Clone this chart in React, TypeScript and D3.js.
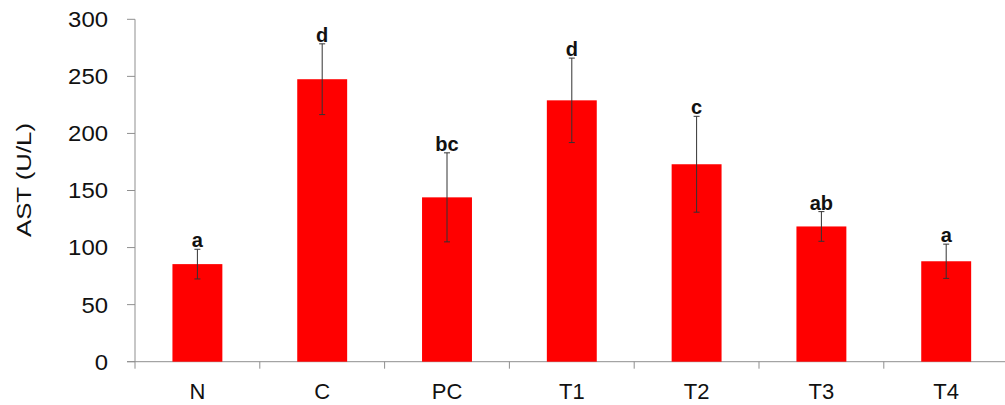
import React from "react";
import * as d3 from "d3";

const categories = ["N", "C", "PC", "T1", "T2", "T3", "T4"];
const means = [85.5, 247.5, 144, 229, 173, 118.5, 88];
const errors = [13, 31, 39, 37, 42, 13, 15];
const letters = ["a", "d", "bc", "d", "c", "ab", "a"];
const yTicks = [0, 50, 100, 150, 200, 250, 300];

const W = 1005;
const H = 405;
const axisX = 135;
const step = 124.8;

export default function App() {
  const x = d3
    .scaleBand<string>()
    .domain(categories)
    .range([axisX, axisX + step * categories.length])
    .paddingInner(0.6)
    .paddingOuter(0.3);
  const y = d3.scaleLinear().domain([0, 300]).range([361.7, 19.3]);
  const font = "Arial, 'Liberation Sans', sans-serif";
  const axisColor = "#8f8f8f";
  const boundaries = d3.range(categories.length + 1).map((i) => axisX + i * x.step());

  return (
    <svg
      width={W}
      height={H}
      style={{ position: "absolute", left: 0, top: 0, background: "#fff" }}
      fontFamily={font}
    >
      <rect x={0} y={0} width={W} height={H} fill="#fff" />
      {/* y axis */}
      <line x1={axisX} x2={axisX} y1={y(300)} y2={y(0)} stroke={axisColor} strokeWidth={1} />
      {yTicks.map((t) => {
        const label = String(t);
        return (
          <g key={t}>
            <line x1={axisX - 8} x2={axisX} y1={y(t)} y2={y(t)} stroke={axisColor} strokeWidth={1} />
            <text
              x={108}
              y={y(t)}
              dy="0.36em"
              textAnchor="end"
              fontSize={22}
              fill="#111"
              textLength={13.3 * label.length}
              lengthAdjust="spacingAndGlyphs"
            >
              {label}
            </text>
          </g>
        );
      })}
      {/* x axis */}
      <line x1={axisX - 8} x2={W} y1={y(0)} y2={y(0)} stroke={axisColor} strokeWidth={1} />
      {boundaries.map((b, i) => (
        <line key={i} x1={b} x2={b} y1={y(0)} y2={y(0) + 7} stroke={axisColor} strokeWidth={1} />
      ))}
      {categories.map((c) => (
        <text
          key={c}
          x={(x(c) as number) + x.bandwidth() / 2}
          y={399}
          textAnchor="middle"
          fontSize={22}
          fill="#111"
        >
          {c}
        </text>
      ))}
      {/* bars */}
      {categories.map((c, i) => (
        <rect
          key={c}
          x={x(c) as number}
          y={y(means[i])}
          width={x.bandwidth()}
          height={y(0) - y(means[i])}
          fill="#ff0000"
        />
      ))}
      {/* error bars */}
      {categories.map((c, i) => {
        const cx = (x(c) as number) + x.bandwidth() / 2;
        const top = y(means[i] + errors[i]);
        const bot = y(means[i] - errors[i]);
        return (
          <g key={c} stroke="#333" strokeWidth={1}>
            <line x1={cx} x2={cx} y1={top} y2={bot} />
            <line x1={cx - 3} x2={cx + 3} y1={top} y2={top} />
            <line x1={cx - 3} x2={cx + 3} y1={bot} y2={bot} />
          </g>
        );
      })}
      {/* significance letters */}
      {categories.map((c, i) => {
        const cx = (x(c) as number) + x.bandwidth() / 2;
        const top = y(means[i] + errors[i]);
        return (
          <text
            key={c}
            x={cx}
            y={top - 2}
            textAnchor="middle"
            fontSize={20}
            fontWeight="bold"
            fill="#111"
          >
            {letters[i]}
          </text>
        );
      })}
      {/* y axis title */}
      <text
        transform={`translate(31,180) rotate(-90)`}
        textAnchor="middle"
        fontSize={21}
        fill="#111"
        textLength={114}
        lengthAdjust="spacingAndGlyphs"
      >
        AST (U/L)
      </text>
    </svg>
  );
}
